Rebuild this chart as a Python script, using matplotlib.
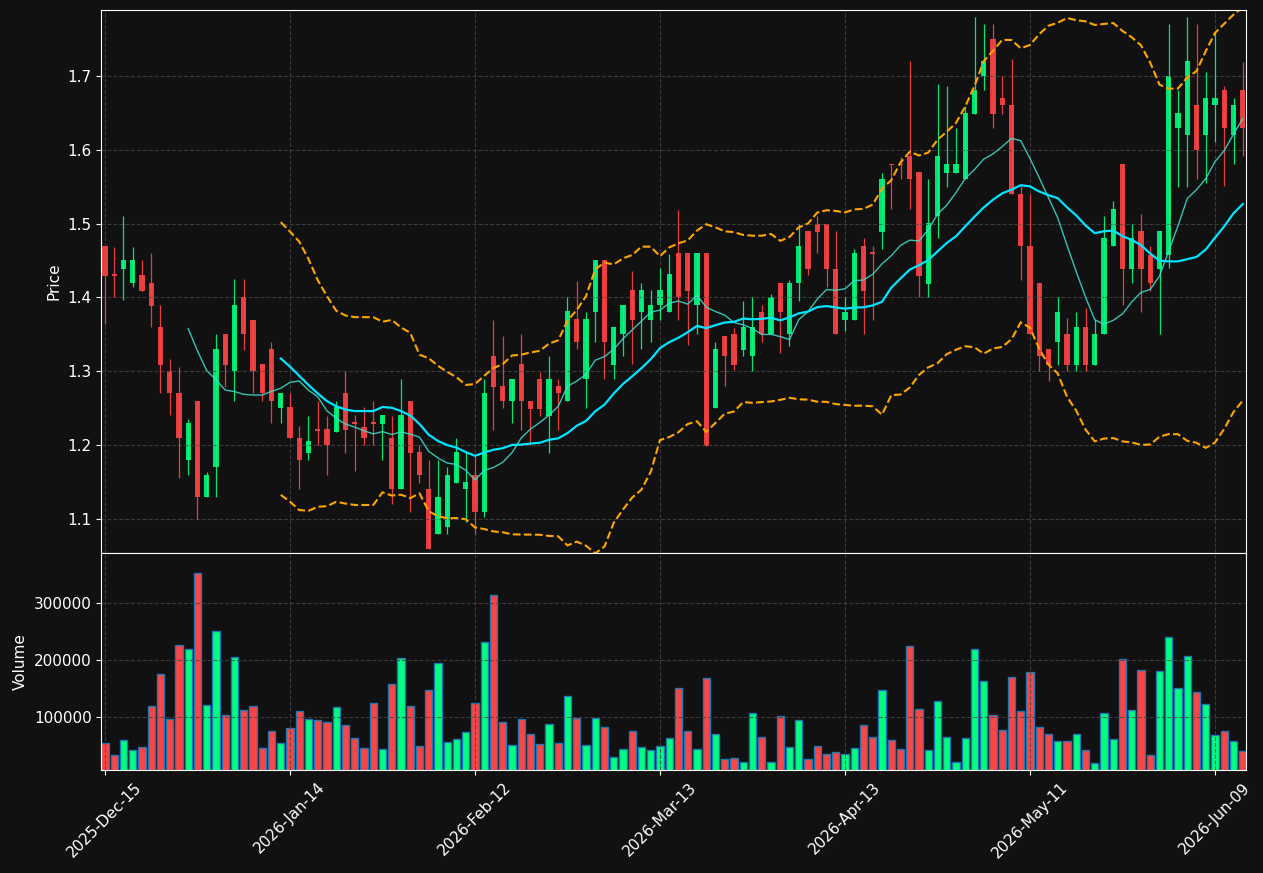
import matplotlib
matplotlib.use("Agg")
import matplotlib.pyplot as plt
import numpy as np
import pandas as pd

# trading days (NYSE calendar) starting 2025-12-15
holidays = ["2025-12-25", "2026-01-01", "2026-01-19", "2026-02-16", "2026-04-03", "2026-05-25"]
dates = pd.bdate_range("2025-12-15", periods=124, freq="C", holidays=holidays)

opens = [1.469, 1.431, 1.439, 1.419, 1.430, 1.419, 1.360, 1.300, 1.271, 1.179,
         1.260, 1.129, 1.170, 1.351, 1.300, 1.401, 1.369, 1.310, 1.330, 1.250,
         1.251, 1.210, 1.189, 1.221, 1.221, 1.217, 1.271, 1.231, 1.225, 1.231,
         1.229, 1.210, 1.140, 1.260, 1.190, 1.141, 1.079, 1.089, 1.149, 1.140,
         1.160, 1.109, 1.321, 1.280, 1.259, 1.310, 1.260, 1.290, 1.239, 1.280,
         1.259, 1.370, 1.289, 1.380, 1.451, 1.309, 1.350, 1.410, 1.380, 1.369,
         1.390, 1.380, 1.460, 1.460, 1.389, 1.460, 1.250, 1.348, 1.350, 1.329,
         1.320, 1.380, 1.350, 1.419, 1.350, 1.419, 1.490, 1.500, 1.500, 1.439,
         1.369, 1.369, 1.469, 1.461, 1.489, 1.581, 1.581, 1.591, 1.570, 1.418,
         1.510, 1.569, 1.569, 1.560, 1.649, 1.700, 1.750, 1.670, 1.661, 1.540,
         1.470, 1.420, 1.330, 1.339, 1.350, 1.309, 1.360, 1.309, 1.350, 1.469,
         1.581, 1.439, 1.490, 1.458, 1.439, 1.458, 1.630, 1.620, 1.661, 1.620,
         1.661, 1.681, 1.620, 1.681]
highs = [1.470, 1.468, 1.510, 1.468, 1.450, 1.460, 1.389, 1.316, 1.305, 1.235,
         1.260, 1.164, 1.351, 1.351, 1.425, 1.425, 1.369, 1.310, 1.339, 1.271,
         1.270, 1.226, 1.239, 1.259, 1.239, 1.259, 1.300, 1.240, 1.251, 1.260,
         1.240, 1.239, 1.290, 1.260, 1.200, 1.180, 1.180, 1.170, 1.210, 1.190,
         1.185, 1.289, 1.369, 1.348, 1.290, 1.350, 1.260, 1.299, 1.321, 1.289,
         1.400, 1.422, 1.380, 1.451, 1.451, 1.360, 1.390, 1.436, 1.419, 1.410,
         1.440, 1.459, 1.519, 1.460, 1.460, 1.460, 1.339, 1.348, 1.359, 1.395,
         1.400, 1.389, 1.404, 1.419, 1.424, 1.500, 1.490, 1.510, 1.500, 1.490,
         1.400, 1.465, 1.480, 1.469, 1.569, 1.581, 1.590, 1.720, 1.570, 1.560,
         1.689, 1.687, 1.630, 1.659, 1.780, 1.771, 1.771, 1.700, 1.723, 1.551,
         1.540, 1.420, 1.330, 1.401, 1.372, 1.380, 1.386, 1.370, 1.510, 1.531,
         1.581, 1.500, 1.513, 1.469, 1.490, 1.771, 1.681, 1.780, 1.771, 1.705,
         1.759, 1.686, 1.670, 1.719]
lows = [1.364, 1.400, 1.396, 1.414, 1.409, 1.360, 1.270, 1.240, 1.155, 1.160,
        1.100, 1.129, 1.129, 1.279, 1.260, 1.329, 1.270, 1.260, 1.230, 1.230,
        1.209, 1.141, 1.180, 1.200, 1.159, 1.217, 1.189, 1.165, 1.200, 1.200,
        1.180, 1.120, 1.140, 1.109, 1.149, 1.059, 1.079, 1.080, 1.149, 1.095,
        1.080, 1.103, 1.220, 1.250, 1.230, 1.220, 1.200, 1.239, 1.189, 1.220,
        1.259, 1.330, 1.250, 1.339, 1.289, 1.289, 1.320, 1.310, 1.330, 1.339,
        1.369, 1.380, 1.369, 1.335, 1.350, 1.199, 1.250, 1.280, 1.301, 1.320,
        1.300, 1.339, 1.350, 1.324, 1.334, 1.395, 1.430, 1.460, 1.414, 1.350,
        1.355, 1.369, 1.350, 1.369, 1.465, 1.520, 1.560, 1.520, 1.400, 1.400,
        1.481, 1.549, 1.569, 1.560, 1.649, 1.681, 1.630, 1.649, 1.540, 1.423,
        1.350, 1.300, 1.286, 1.309, 1.300, 1.300, 1.300, 1.309, 1.350, 1.469,
        1.390, 1.419, 1.380, 1.409, 1.350, 1.440, 1.549, 1.549, 1.560, 1.555,
        1.610, 1.551, 1.581, 1.591]
closes = [1.429, 1.429, 1.451, 1.451, 1.409, 1.388, 1.309, 1.270, 1.209, 1.230,
          1.129, 1.160, 1.330, 1.309, 1.390, 1.350, 1.300, 1.270, 1.259, 1.271,
          1.209, 1.179, 1.205, 1.219, 1.200, 1.251, 1.220, 1.229, 1.209, 1.229,
          1.240, 1.140, 1.240, 1.189, 1.159, 1.059, 1.130, 1.160, 1.190, 1.150,
          1.109, 1.270, 1.279, 1.259, 1.290, 1.259, 1.249, 1.249, 1.290, 1.270,
          1.381, 1.339, 1.370, 1.451, 1.339, 1.360, 1.390, 1.369, 1.410, 1.390,
          1.410, 1.431, 1.400, 1.409, 1.460, 1.199, 1.330, 1.320, 1.309, 1.360,
          1.360, 1.350, 1.401, 1.380, 1.419, 1.469, 1.439, 1.489, 1.439, 1.350,
          1.380, 1.460, 1.409, 1.459, 1.560, 1.579, 1.579, 1.560, 1.429, 1.501,
          1.591, 1.581, 1.581, 1.650, 1.681, 1.720, 1.649, 1.660, 1.540, 1.469,
          1.350, 1.320, 1.309, 1.380, 1.309, 1.360, 1.309, 1.350, 1.481, 1.520,
          1.439, 1.481, 1.439, 1.419, 1.490, 1.700, 1.650, 1.720, 1.600, 1.670,
          1.670, 1.630, 1.661, 1.630]
volumes = [55400, 34300, 60700, 43100, 48400, 120500, 175100, 97700, 226100, 219100,
           352800, 122300, 250700, 104700, 205000, 113500, 120500, 46600, 76500, 55400,
           81800, 111700, 97700, 95900, 92400, 118800, 87100, 64200, 46600, 125800,
           44900, 157500, 203200, 120500, 50100, 146900, 194400, 57200, 62500, 74800,
           125800, 231400, 314100, 92400, 51900, 97700, 71300, 53700, 88900, 55400,
           136400, 99400, 51900, 99400, 83600, 30800, 44900, 76500, 48400, 43100,
           50100, 64200, 150400, 76500, 44900, 168000, 71300, 27300, 29000, 22000,
           108200, 66000, 22000, 102900, 48400, 95900, 27300, 50100, 36100, 39600,
           36100, 46600, 87100, 66000, 146900, 60700, 44900, 224300, 115200, 43100,
           127600, 66000, 22000, 64200, 219100, 162800, 104700, 78300, 169800, 111700,
           178600, 83600, 71300, 58900, 58900, 71300, 43100, 20200, 108200, 62500,
           201500, 113500, 182100, 34300, 180400, 240200, 150400, 206700, 143400, 124000,
           69500, 76500, 58900, 41300]

UP = "#00ff7f"
DOWN = "#ff4444"
BG = "#111111"

df = pd.DataFrame({"open": opens, "high": highs, "low": lows, "close": closes,
                   "volume": volumes}, index=dates)
x = np.arange(len(df))
up = df["close"] >= df["open"]
colors = np.where(up, UP, DOWN)

sma10 = df["close"].rolling(10).mean()
sma20 = df["close"].rolling(20).mean()
std20 = df["close"].rolling(20).std(ddof=0)
bb_up = sma20 + 2 * std20
bb_lo = sma20 - 2 * std20

fig = plt.figure(figsize=(12.63, 8.73), dpi=100, facecolor=BG)
ax = fig.add_axes([0.0802, 0.3666, 0.9067, 0.6216])
axv = fig.add_axes([0.0802, 0.1180, 0.9067, 0.2486], sharex=ax)

for a in (ax, axv):
    a.set_facecolor(BG)
    for s in a.spines.values():
        s.set_color("white")
    a.tick_params(colors="white", labelsize=11)
    a.grid(True, color="#444444", linestyle="--", linewidth=0.8, alpha=0.8)

# candles
ax.vlines(x, df["low"], df["high"], color=colors, linewidth=0.9, alpha=0.9)
body = (df["close"] - df["open"]).abs().clip(lower=0.0012)
bottom = df[["open", "close"]].min(axis=1)
ax.bar(x, body, 0.55, bottom=bottom, color=colors, alpha=0.9)

ax.plot(x, sma10, color="#40e0d0", linewidth=1, alpha=0.85)
ax.plot(x, sma20, color="#00e5ff", linewidth=1.6)
ax.plot(x, bb_up, color="orange", linestyle="--", linewidth=1.5)
ax.plot(x, bb_lo, color="orange", linestyle="--", linewidth=1.5)

ax.set_ylim(df["low"].min() * 0.995, df["high"].max() * 1.005)
ax.set_ylabel("Price", color="white", fontsize=11)
ax.tick_params(axis="x", labelbottom=False, length=0)

# volume
axv.bar(x, df["volume"], 0.8, color=colors, edgecolor="#1f77b4", linewidth=1)
axv.set_ylim(7500, df["volume"].max() * 1.1)
axv.set_ylabel("Volume", color="white", fontsize=11)

ticks = x[::20]
axv.set_xticks(ticks)
axv.set_xticklabels([d.strftime("%Y-%b-%d") for d in dates[::20]], rotation=45)
axv.set_xlim(-0.4, len(df) - 0.6)

fig.savefig("out.png", facecolor=BG)
